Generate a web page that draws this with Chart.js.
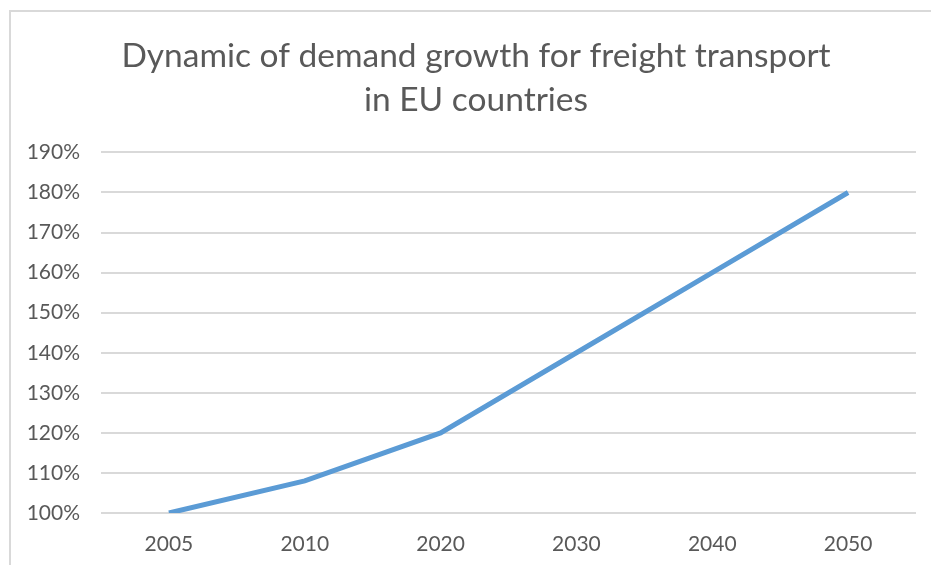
<!DOCTYPE html>
<html>
<head>
<meta charset="utf-8">
<script src="https://cdn.jsdelivr.net/npm/chart.js@4.4.0/dist/chart.umd.min.js"></script>
<style>
    html, body { margin: 0; padding: 0; background: #fff; }
    #wrap { position: relative; width: 931px; height: 565px; overflow: hidden; }
    #frame { position: absolute; left: 9px; top: 10px; width: 960px; height: 600px; border: 2px solid #d9d9d9; box-sizing: border-box; }
    canvas { position: absolute; left: 0; top: 0; }
</style>
</head>
<body>
<div id="wrap">
    <div id="frame"></div>
    <canvas id="myChart" width="931" height="565"></canvas>
</div>
<script>
// данные графика
const years = ['2005', '2010', '2020', '2030', '2040', '2050'];
const demand = [100, 108, 120, 140, 160, 180];
const titleLines = ['Dynamic of demand growth for freight transport', 'in EU countries'];

const textColor = '#595959';
const gridColor = '#d9d9d9';

// сдвиг заголовка вправо, чтобы центр совпал с оригиналом
const titleShift = {
    id: 'titleShift',
    afterLayout(chart) {
        const t = chart.titleBlock;
        if (t) {
            t.left += 13;
            t.right += 13;
        }
    }
};

const ctx = document.getElementById('myChart').getContext('2d');
new Chart(ctx, {
    type: 'line',
    data: {
        labels: years,
        datasets: [{
            label: 'Demand',
            data: demand,
            borderColor: '#5b9bd5',
            borderWidth: 5,
            pointRadius: 0,
            tension: 0,
            fill: false
        }]
    },
    options: {
        responsive: false,
        animation: false,
        layout: { padding: { left: 10, right: 15, top: 11, bottom: 0 } },
        plugins: {
            legend: { display: false },
            tooltip: { enabled: false },
            title: {
                display: true,
                text: titleLines,
                color: textColor,
                font: { family: 'Lato', size: 33.5, weight: 'normal', lineHeight: 1.29 },
                padding: { top: 24, bottom: 31 }
            }
        },
        scales: {
            x: {
                offset: true,
                grid: { display: false, drawTicks: false },
                border: { display: false },
                ticks: { color: textColor, font: { family: 'Lato', size: 21 }, padding: 19, maxRotation: 0 },
                afterFit: function(scale) { scale.height = 52; }
            },
            y: {
                min: 100,
                max: 190,
                grid: { color: gridColor, lineWidth: 2, drawTicks: false },
                border: { display: false },
                ticks: {
                    stepSize: 10,
                    color: textColor,
                    font: { family: 'Lato', size: 21 },
                    padding: 21,
                    callback: value => value + '%'
                },
                afterFit: function(scale) { scale.width = 91; }
            }
        }
    },
    plugins: [titleShift]
});
</script>
</body>
</html>
